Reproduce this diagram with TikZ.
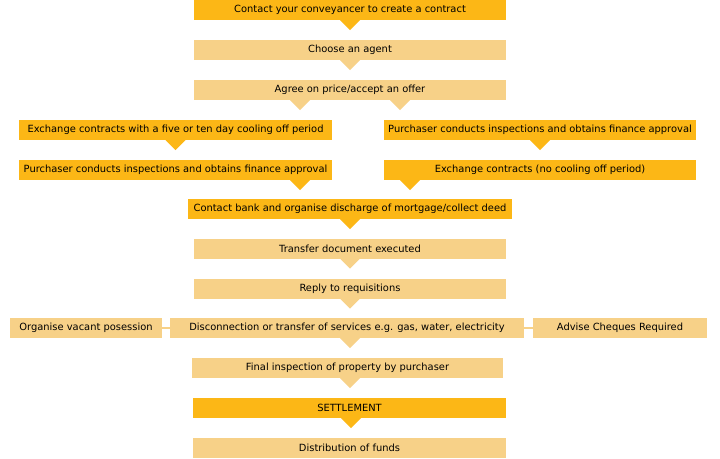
\documentclass[tikz,border=0pt]{standalone}
\usepackage{fontspec}
\setmainfont{DejaVu Sans}
\usetikzlibrary{calc, positioning}

\definecolor{stepdark}{RGB}{252,183,22}
\definecolor{steplight}{RGB}{247,209,136}

\begin{document}
\begin{tikzpicture}[
            x=1pt, y=-1pt,
            % Stile per i riquadri principali (arancio pieno)
            darkbox/.style={fill=stepdark, inner sep=0pt, minimum height=20pt,
                font=\fontsize{9.9}{11}\selectfont},
            % Stile per i riquadri secondari (arancio chiaro)
            lightbox/.style={fill=steplight, inner sep=0pt, minimum height=20pt,
                font=\fontsize{9.9}{11}\selectfont},
            % Stile per le linee di collegamento orizzontali
            link/.style={steplight, line width=2pt}
        ]

            \useasboundingbox (0,0) rectangle (720,458);

            % --- colonna centrale ---
            \node[darkbox, minimum width=312pt] (conv) at (350,10) {Contact your conveyancer to create a contract};
            \node[lightbox, minimum width=312pt] (agent) at (350,50) {Choose an agent};
            \node[lightbox, minimum width=312pt] (agree) at (350,90) {Agree on price/accept an offer};

            % --- due percorsi ---
            \node[darkbox, minimum width=313pt] (exchL) at (175.5,130) {Exchange contracts with a five or ten day cooling off period};
            \node[darkbox, minimum width=313pt] (purchL) at (175.5,170) {Purchaser conducts inspections and obtains finance approval};
            \node[darkbox, minimum width=312pt] (purchR) at (540,130) {Purchaser conducts inspections and obtains finance approval};
            \node[darkbox, minimum width=312pt] (exchR) at (540,170) {Exchange contracts (no cooling off period)};

            % --- di nuovo al centro ---
            \node[darkbox, minimum width=324pt] (bank) at (350,209) {Contact bank and organise discharge of mortgage/collect deed};
            \node[lightbox, minimum width=312pt] (transfer) at (350,248.5) {Transfer document executed};
            \node[lightbox, minimum width=312pt] (reply) at (350,288.5) {Reply to requisitions};

            % --- riga con tre riquadri ---
            \node[lightbox, minimum width=354pt] (services) at (347,328) {Disconnection or transfer of services e.g. gas, water, electricity};
            \node[lightbox, minimum width=152pt] (vacant) at (86,328) {Organise vacant posession};
            \node[lightbox, minimum width=174pt] (cheques) at (620,328) {Advise Cheques Required};
            \draw[link] (vacant.east) -- (services.west);
            \draw[link] (services.east) -- (cheques.west);

            \node[lightbox, minimum width=311pt] (final) at (347.5,368) {Final inspection of property by purchaser};
            \node[darkbox, minimum width=313pt] (settle) at (349.5,408) {SETTLEMENT};
            \node[lightbox, minimum width=313pt] (funds) at (349.5,448) {Distribution of funds};

            % Linguette a triangolo sotto i riquadri
            \foreach \nd/\dx/\col in {conv/0/stepdark, agent/0/steplight,
                    agree/-50/steplight, agree/50/steplight,
                    exchL/0/stepdark, purchL/124.5/stepdark,
                    purchR/0/stepdark, exchR/-130/stepdark,
                    bank/0/stepdark, transfer/0/steplight, reply/0/steplight,
                    services/3/steplight, final/2.5/steplight, settle/1.5/stepdark}
                \fill[\col] ($(\nd.south)+(\dx-10,0)$) -- ++(20,0) -- ++(-10,10) -- cycle;

        \end{tikzpicture}
\end{document}
